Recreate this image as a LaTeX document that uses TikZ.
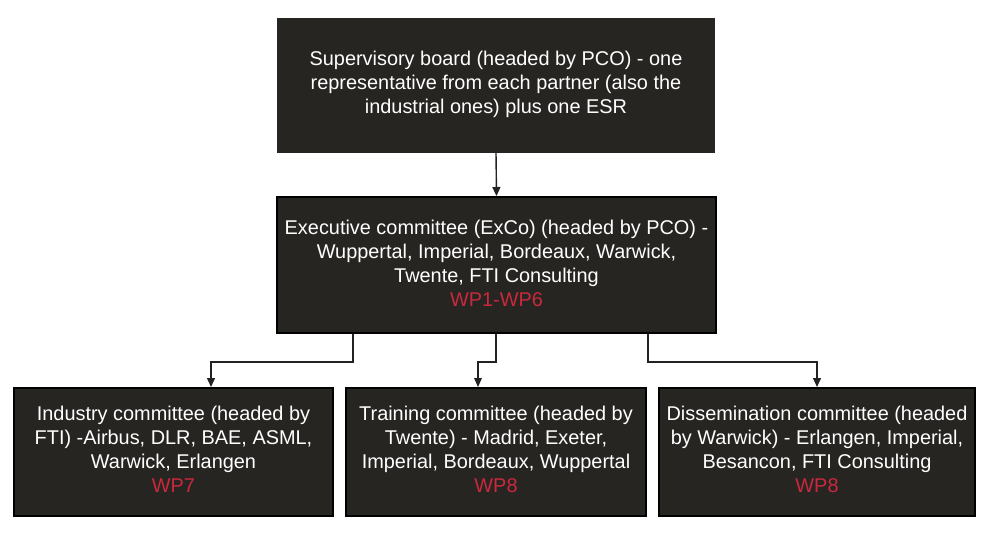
\documentclass[tikz,border=0pt]{standalone}
\usepackage{fontspec}
\setmainfont{Liberation Sans}
\usetikzlibrary{arrows.meta}
\definecolor{boxfill}{HTML}{272522}
\definecolor{wpred}{HTML}{C9283D}
\definecolor{linecol}{HTML}{222222}
\tikzset{
  orgbox/.style={fill=boxfill, draw=black, line width=2pt, inner sep=0pt},
  boxtext/.style={inner sep=0pt, text=white, align=center, font=\fontsize{19.9}{24}\selectfont},
  conn/.style={draw=linecol, line width=1.4pt, -{Triangle[length=9pt,width=8pt]}},
  connthick/.style={draw=linecol, line width=2.6pt, -{Triangle[length=9pt,width=8pt,line width=0pt]}},
}
\newcommand{\wplabel}[1]{\textcolor{wpred}{#1}}
\begin{document}
\begin{tikzpicture}[x=1pt,y=-1pt]
\useasboundingbox (0,0) rectangle (992,541);
\node[orgbox, draw=boxfill, minimum width=436pt, minimum height=133pt] (sup) at (496,85.5) {};
\node[boxtext] (suptext) at ([yshift=1pt]sup.center)
  {Supervisory board (headed by PCO) - one\\representative from each partner (also the\\industrial ones) plus one ESR};
\node[orgbox, minimum width=439pt, minimum height=136pt] (exco) at (496.5,265) {};
\node[boxtext] (excotext) at ([yshift=2pt]exco.center)
  {Executive committee (ExCo) (headed by PCO) -\\Wuppertal, Imperial, Bordeaux, Warwick,\\Twente, FTI Consulting\\\wplabel{WP1-WP6}};
\node[orgbox, minimum width=319pt, minimum height=128pt] (ind) at (173.5,452) {};
\node[boxtext] (indtext) at ([yshift=3pt]ind.center)
  {Industry committee (headed by\\FTI) -Airbus, DLR, BAE, ASML,\\Warwick, Erlangen\\\wplabel{WP7}};
\node[orgbox, minimum width=300pt, minimum height=128pt] (train) at (496,452) {};
\node[boxtext] (traintext) at ([yshift=3pt]train.center)
  {Training committee (headed by\\Twente) - Madrid, Exeter,\\Imperial, Bordeaux, Wuppertal\\\wplabel{WP8}};
\node[orgbox, minimum width=316pt, minimum height=128pt] (diss) at (817,452) {};
\node[boxtext] (disstext) at ([yshift=3pt]diss.center)
  {Dissemination committee (headed\\by Warwick) - Erlangen, Imperial,\\Besancon, FTI Consulting\\\wplabel{WP8}};
\draw[conn] (sup.south) -- (exco.north);
\draw[conn] ([xshift=-143.5pt]exco.south) -- ++(0,28) -| ([xshift=37.5pt]ind.north);
\draw[connthick] ([xshift=-0.5pt]exco.south) -- ++(0,28) -| ([xshift=-18pt]train.north);
\draw[conn] ([xshift=151.5pt]exco.south) -- ++(0,28) -| (diss.north);
\end{tikzpicture}
\end{document}
